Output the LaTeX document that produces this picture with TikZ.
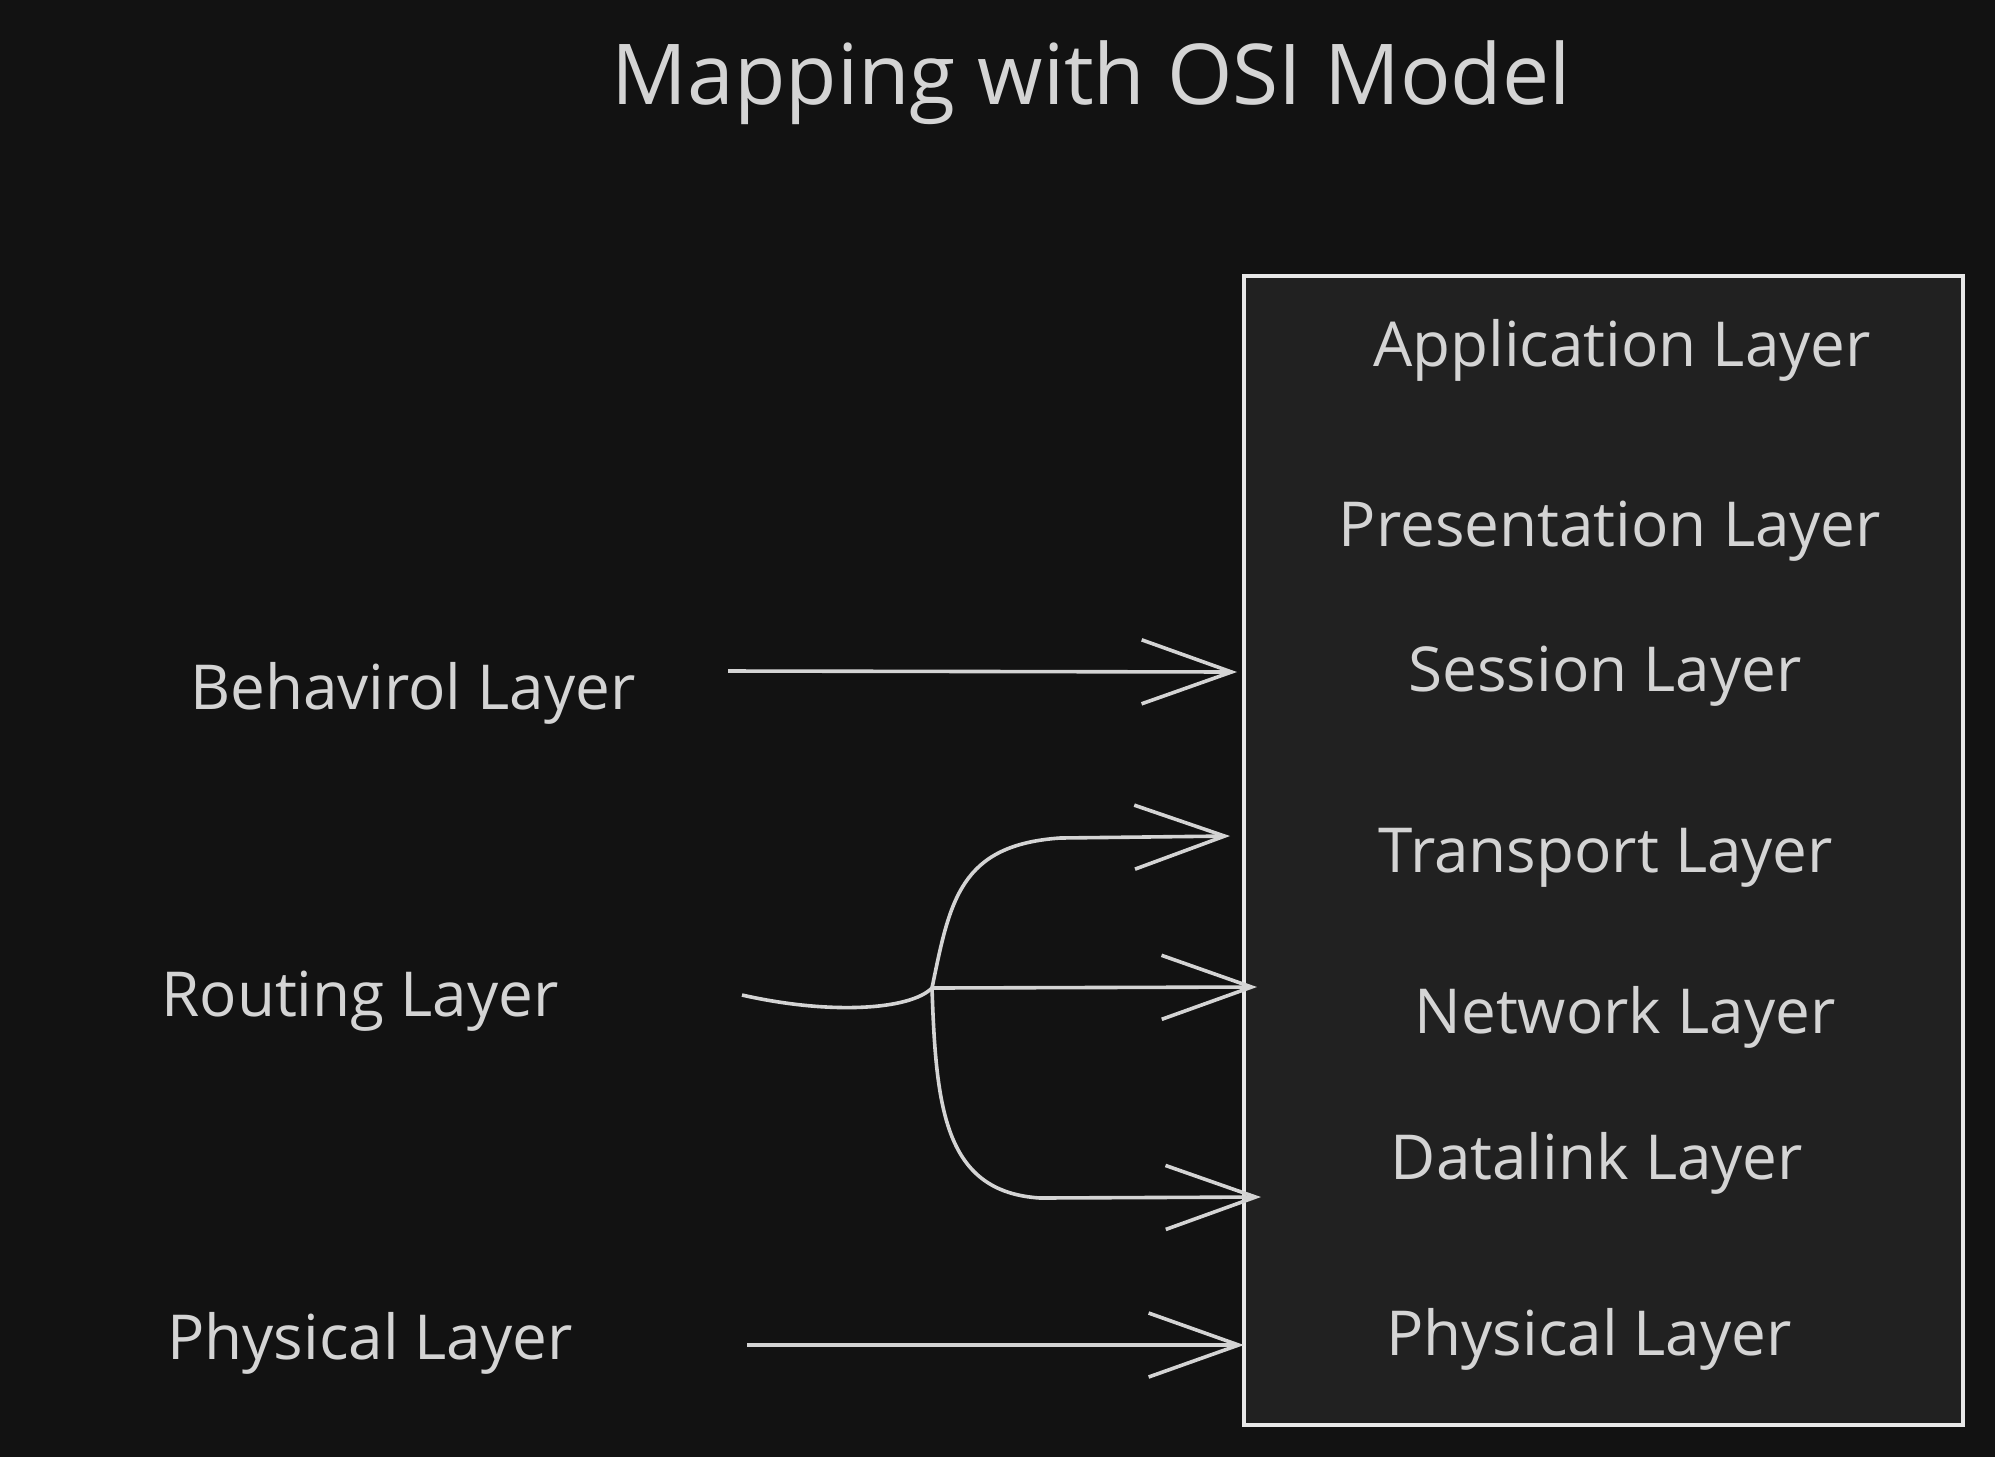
\documentclass[tikz,border=0pt]{standalone}
\usepackage{fontspec}
\setmainfont{Open Sans}
\usetikzlibrary{arrows.meta, positioning, calc}
\definecolor{bgdark}{HTML}{121212}
\definecolor{boxdark}{HTML}{212121}
\definecolor{inkgray}{HTML}{D4D4D4}
\definecolor{edgewhite}{HTML}{E8E8E8}
\tikzset{lyr/.style = {
  % Text
  text=inkgray,
  font=\fontsize{31}{37}\selectfont,
  inner sep=0pt
  }}
\tikzset{heading/.style = {
  lyr,
  font=\fontsize{42}{50}\selectfont
  }}
\tikzset{osibox/.style = {
  % Rectangle:
  rectangle,
  draw=edgewhite,
  fill=boxdark,
  line width=1.8pt,
  minimum width=359.5pt,
  minimum height=574.5pt,
  inner sep=0pt
  }}
\tikzset{arrow/.style = {
  -{Straight Barb[length=45pt, width=32pt]},
  draw=inkgray,
  line width=1.8pt
  }}

\begin{document}
\begin{tikzpicture}[x=0.5pt, y=-0.5pt]
% BACKGROUND
\fill [bgdark] (0,0) rectangle (1995,1457);
\useasboundingbox (0,0) rectangle (1995,1457);

% NODES
\node (title) [heading] at (1091,83) {Mapping with OSI Model};

\node (osi) [osibox] at (1603.5,850.5) {};

\node (app) [lyr] at (1622,350) {Application Layer};
\node (pres) [lyr] at (1610,531) {Presentation Layer};
\node (ses) [lyr] at (1605,676) {Session Layer};
\node (trans) [lyr] at (1606,858) {Transport Layer};
\node (net) [lyr] at (1625,1017) {Network Layer};
\node (dl) [lyr] at (1597,1163) {Datalink Layer};
\node (phyR) [lyr] at (1589,1339) {Physical Layer};

\node (beh) [lyr] at (413,693) {Behavirol Layer};
\node (rout) [lyr] at (360,1001) {Routing Layer};
\node (phyL) [lyr] at (370,1343) {Physical Layer};

% coordinates
\coordinate (behout) at (728,671);
\coordinate (sesin) at (1237,672);
\coordinate (routout) at (742,995);
\coordinate (fork) at (932,988);
\coordinate (transin) at (1230,836);
\coordinate (netin) at (1257,987);
\coordinate (dlin) at (1261,1197);
\coordinate (phyout) at (747,1345);
\coordinate (phyin) at (1244,1345);

% arrows
\draw [arrow] (behout) -- (sesin);

\draw [draw=inkgray, line width=1.8pt] (routout) .. controls (830,1015) and (910,1010) .. (fork);
\draw [arrow] (fork) .. controls (950,900) and (960,845) .. (1060,838) -- (transin);
\draw [arrow] (fork) -- (netin);
\draw [arrow] (fork) .. controls (936,1110) and (945,1192) .. (1040,1198) -- (dlin);

\draw [arrow] (phyout) -- (phyin);
\end{tikzpicture}
\end{document}
